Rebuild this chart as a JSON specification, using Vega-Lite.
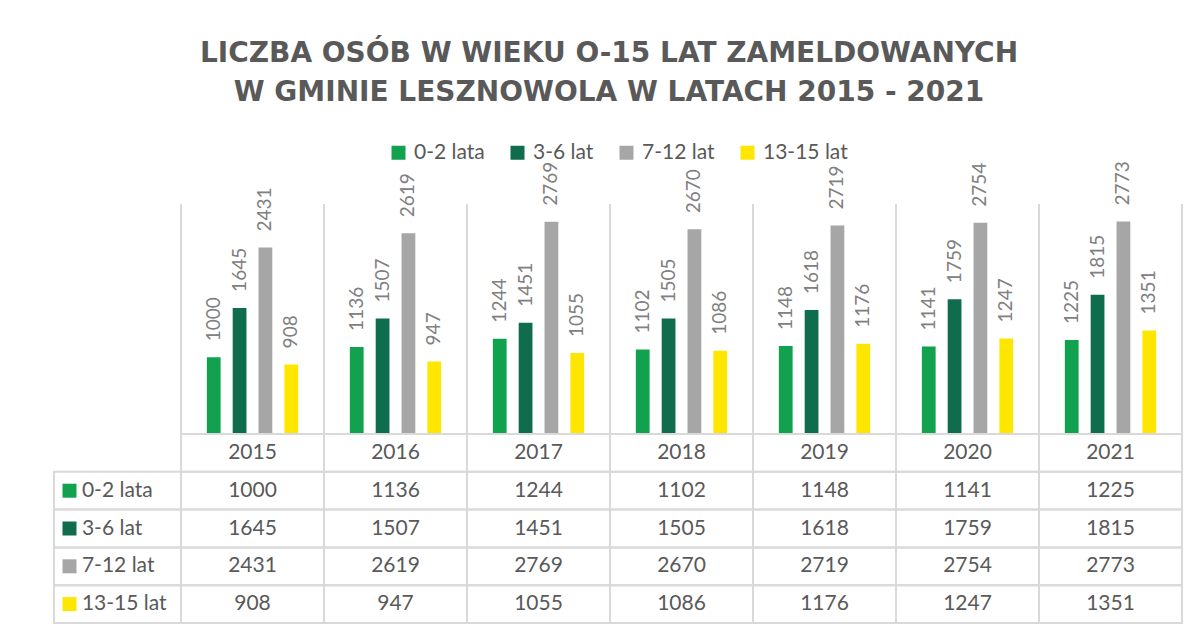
{
  "$schema": "https://vega.github.io/schema/vega-lite/v6.json",
  "background": "white",
  "padding": {"left": 53, "top": 40, "right": 0, "bottom": 0},
  "bounds": "flush",
  "spacing": 0,
  "columns": 2,
  "title": {
    "text": ["LICZBA OSÓB W WIEKU O-15 LAT ZAMELDOWANYCH", "W GMINIE LESZNOWOLA W LATACH 2015 - 2021"],
    "font": "DejaVu Sans",
    "fontSize": 28,
    "fontWeight": "bold",
    "color": "#595959",
    "anchor": "middle",
    "lineHeight": 39,
    "offset": 35,
    "dx": -9
  },
  "datasets": {
    "main": [
      {"year": "2015", "series": "0-2 lata", "value": 1000},
      {"year": "2015", "series": "3-6 lat", "value": 1645},
      {"year": "2015", "series": "7-12 lat", "value": 2431},
      {"year": "2015", "series": "13-15 lat", "value": 908},
      {"year": "2016", "series": "0-2 lata", "value": 1136},
      {"year": "2016", "series": "3-6 lat", "value": 1507},
      {"year": "2016", "series": "7-12 lat", "value": 2619},
      {"year": "2016", "series": "13-15 lat", "value": 947},
      {"year": "2017", "series": "0-2 lata", "value": 1244},
      {"year": "2017", "series": "3-6 lat", "value": 1451},
      {"year": "2017", "series": "7-12 lat", "value": 2769},
      {"year": "2017", "series": "13-15 lat", "value": 1055},
      {"year": "2018", "series": "0-2 lata", "value": 1102},
      {"year": "2018", "series": "3-6 lat", "value": 1505},
      {"year": "2018", "series": "7-12 lat", "value": 2670},
      {"year": "2018", "series": "13-15 lat", "value": 1086},
      {"year": "2019", "series": "0-2 lata", "value": 1148},
      {"year": "2019", "series": "3-6 lat", "value": 1618},
      {"year": "2019", "series": "7-12 lat", "value": 2719},
      {"year": "2019", "series": "13-15 lat", "value": 1176},
      {"year": "2020", "series": "0-2 lata", "value": 1141},
      {"year": "2020", "series": "3-6 lat", "value": 1759},
      {"year": "2020", "series": "7-12 lat", "value": 2754},
      {"year": "2020", "series": "13-15 lat", "value": 1247},
      {"year": "2021", "series": "0-2 lata", "value": 1225},
      {"year": "2021", "series": "3-6 lat", "value": 1815},
      {"year": "2021", "series": "7-12 lat", "value": 2773},
      {"year": "2021", "series": "13-15 lat", "value": 1351}
    ],
    "years": [
      {"year": "2015"}, {"year": "2016"}, {"year": "2017"}, {"year": "2018"},
      {"year": "2019"}, {"year": "2020"}, {"year": "2021"}
    ],
    "series": [
      {"series": "0-2 lata"}, {"series": "3-6 lat"}, {"series": "7-12 lat"}, {"series": "13-15 lat"}
    ]
  },
  "concat": [
    {
      "width": 127,
      "height": 230,
      "data": {"values": []},
      "mark": "point",
      "encoding": {}
    },
    {
      "width": 1001,
      "height": 230,
      "layer": [
        {
          "data": {"name": "years"},
          "mark": {"type": "rule", "color": "#d9d9d9", "strokeWidth": 2},
          "encoding": {
            "x": {"field": "year", "type": "nominal", "bandPosition": 0,
                  "scale": {"domain": ["2015", "2016", "2017", "2018", "2019", "2020", "2021"], "paddingInner": 0, "paddingOuter": 0},
                  "axis": null}
          }
        },
        {
          "data": {"name": "years"},
          "transform": [{"filter": "datum.year == '2021'"}],
          "mark": {"type": "rule", "color": "#d9d9d9", "strokeWidth": 2},
          "encoding": {
            "x": {"field": "year", "type": "nominal", "bandPosition": 1}
          }
        },
        {
          "data": {"name": "main"},
          "mark": {"type": "bar"},
          "encoding": {
            "x": {"field": "year", "type": "nominal"},
            "xOffset": {"field": "series", "type": "nominal",
                        "scale": {"domain": ["0-2 lata", "3-6 lat", "7-12 lat", "13-15 lat"], "paddingInner": 0.467, "paddingOuter": 1.16}},
            "y": {"field": "value", "type": "quantitative", "scale": {"domain": [0, 3000], "nice": false}, "axis": null},
            "color": {
              "field": "series", "type": "nominal",
              "scale": {"domain": ["0-2 lata", "3-6 lat", "7-12 lat", "13-15 lat"], "range": ["#12a24f", "#0f6c4d", "#a6a6a6", "#ffe600"]},
              "legend": {
                "orient": "none", "legendX": 207, "legendY": -62, "direction": "horizontal",
                "title": null, "symbolType": "square", "symbolSize": 196, "symbolStrokeWidth": 0,
                "labelFont": "Lato", "labelFontSize": 21, "labelColor": "#595959",
                "labelOffset": 5, "columnPadding": 22
              }
            }
          }
        },
        {
          "data": {"name": "main"},
          "mark": {"type": "text", "angle": 270, "align": "left", "baseline": "middle", "dx": 16, "font": "Lato", "fontSize": 19, "color": "#808080"},
          "encoding": {
            "x": {"field": "year", "type": "nominal"},
            "xOffset": {"field": "series", "type": "nominal"},
            "y": {"field": "value", "type": "quantitative"},
            "text": {"field": "value", "type": "quantitative", "format": "d"}
          }
        }
      ]
    },
    {
      "width": 127,
      "height": 189,
      "data": {"name": "series"},
      "layer": [
        {
          "mark": {"type": "rect", "fill": "transparent", "stroke": "#d9d9d9", "strokeWidth": 2},
          "encoding": {
            "x": {"datum": "label", "type": "nominal", "scale": {"domain": ["label"], "paddingInner": 0, "paddingOuter": 0}, "axis": null},
            "y": {"field": "series", "type": "nominal",
                  "scale": {"domain": ["Rok", "0-2 lata", "3-6 lat", "7-12 lat", "13-15 lat"], "paddingInner": 0, "paddingOuter": 0},
                  "axis": null}
          }
        },
        {
          "mark": {"type": "point", "shape": "square", "size": 196, "filled": true, "opacity": 1},
          "encoding": {
            "x": {"datum": "label", "type": "nominal", "bandPosition": 0.122},
            "y": {"field": "series", "type": "nominal"},
            "color": {
              "field": "series", "type": "nominal",
              "scale": {"domain": ["0-2 lata", "3-6 lat", "7-12 lat", "13-15 lat"], "range": ["#12a24f", "#0f6c4d", "#a6a6a6", "#ffe600"]},
              "legend": null
            }
          }
        },
        {
          "mark": {"type": "text", "align": "left", "baseline": "middle", "font": "Lato", "fontSize": 21, "color": "#595959"},
          "encoding": {
            "x": {"datum": "label", "type": "nominal", "bandPosition": 0.22},
            "y": {"field": "series", "type": "nominal"},
            "text": {"field": "series"}
          }
        }
      ]
    },
    {
      "width": 1001,
      "height": 189,
      "layer": [
        {
          "data": {"name": "years"},
          "mark": {"type": "rect", "fill": "transparent", "stroke": "#d9d9d9", "strokeWidth": 2},
          "encoding": {
            "x": {"field": "year", "type": "nominal",
                  "scale": {"domain": ["2015", "2016", "2017", "2018", "2019", "2020", "2021"], "paddingInner": 0, "paddingOuter": 0},
                  "axis": null},
            "y": {"datum": "Rok", "type": "nominal",
                  "scale": {"domain": ["Rok", "0-2 lata", "3-6 lat", "7-12 lat", "13-15 lat"], "paddingInner": 0, "paddingOuter": 0},
                  "axis": null}
          }
        },
        {
          "data": {"name": "main"},
          "mark": {"type": "rect", "fill": "transparent", "stroke": "#d9d9d9", "strokeWidth": 2},
          "encoding": {
            "x": {"field": "year", "type": "nominal"},
            "y": {"field": "series", "type": "nominal"}
          }
        },
        {
          "data": {"name": "years"},
          "mark": {"type": "text", "baseline": "middle", "font": "Lato", "fontSize": 21, "color": "#595959"},
          "encoding": {
            "x": {"field": "year", "type": "nominal"},
            "y": {"datum": "Rok", "type": "nominal"},
            "text": {"field": "year"}
          }
        },
        {
          "data": {"name": "main"},
          "mark": {"type": "text", "baseline": "middle", "font": "Lato", "fontSize": 21, "color": "#595959"},
          "encoding": {
            "x": {"field": "year", "type": "nominal"},
            "y": {"field": "series", "type": "nominal"},
            "text": {"field": "value", "type": "quantitative", "format": "d"}
          }
        }
      ]
    }
  ],
  "resolve": {
    "scale": {"color": "independent"},
    "legend": {"color": "independent"}
  },
  "config": {
    "view": {"stroke": null},
    "font": "Lato"
  }
}
